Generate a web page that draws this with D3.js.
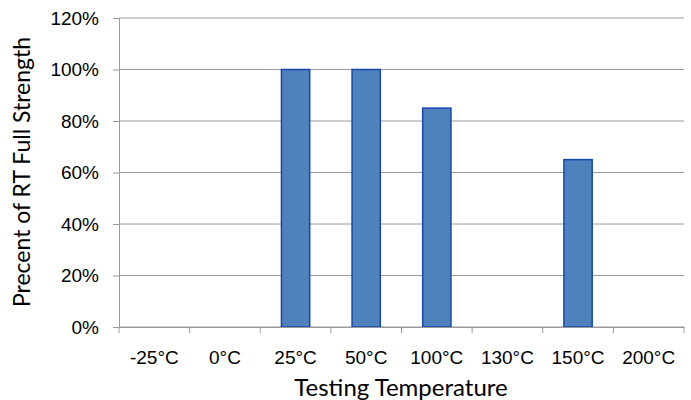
<!DOCTYPE html>
<html>
<head>
<meta charset="utf-8">
<script src="https://cdn.jsdelivr.net/npm/d3@7"></script>
<style>
  body { margin: 0; background: #fff; }
  svg { font-family: Lato, "Open Sans", sans-serif; }
</style>
</head>
<body>
<svg id="chart" width="691" height="400"></svg>
<script>
var categories = ["-25°C", "0°C", "25°C", "50°C", "100°C", "130°C", "150°C", "200°C"];
var values = [null, null, 1.00, 1.00, 0.85, null, 0.65, null];
var yTicks = [0, 0.2, 0.4, 0.6, 0.8, 1.0, 1.2];

var svg = d3.select("#chart"),
    margin = {top: 18, right: 7, bottom: 73, left: 119},
    width = 691 - margin.left - margin.right,
    height = 400 - margin.top - margin.bottom;

var g = svg.append("g").attr("transform", "translate(" + margin.left + "," + margin.top + ")");

var x = d3.scaleBand().domain(categories).range([0, width]).paddingInner(0.6).paddingOuter(0.3);
var xTick = d3.scaleBand().domain(categories).range([0, width]);
var y = d3.scaleLinear().domain([0, 1.2]).range([height, 0]);

// gridlines
g.selectAll(".grid").data(yTicks).enter().append("line")
  .attr("x1", 0).attr("x2", width)
  .attr("y1", function(d) { return y(d); })
  .attr("y2", function(d) { return y(d); })
  .attr("stroke", "#9a9a9a").attr("stroke-width", 1);

// bars
var data = categories.map(function(c, i) { return {cat: c, v: values[i]}; })
  .filter(function(d) { return d.v != null; });
g.selectAll("rect").data(data).enter().append("rect")
  .attr("x", function(d) { return x(d.cat); })
  .attr("y", function(d) { return y(d.v); })
  .attr("width", x.bandwidth())
  .attr("height", function(d) { return height - y(d.v); })
  .attr("fill", "#4f81bd")
  .attr("stroke", "#1448b0").attr("stroke-width", 1.5);

// y axis
var yAxis = g.append("g").call(d3.axisLeft(y).tickValues(yTicks)
    .tickFormat(d3.format(".0%")).tickSize(6).tickPadding(14));
yAxis.select(".domain").attr("stroke", "#9a9a9a");
yAxis.selectAll(".tick line").attr("stroke", "#9a9a9a");
yAxis.selectAll("text").attr("font-size", 19).attr("fill", "#000");

// x axis with ticks on category boundaries
var xAxis = g.append("g").attr("transform", "translate(0," + height + ")")
  .call(d3.axisBottom(xTick).tickSize(0).tickPadding(24));
xAxis.select(".domain").attr("stroke", "#9a9a9a");
xAxis.selectAll("text").attr("font-size", 19).attr("fill", "#000");
var bounds = categories.map(function(c) { return xTick(c); }).concat([width]);
xAxis.selectAll(".bnd").data(bounds).enter().append("line")
  .attr("x1", function(d) { return d; }).attr("x2", function(d) { return d; })
  .attr("y1", 0).attr("y2", 6).attr("stroke", "#9a9a9a");

svg.append("text").attr("x", 401).attr("y", 396)
  .attr("text-anchor", "middle").attr("font-size", 24).text("Testing Temperature");
svg.append("text").attr("transform", "translate(30,172) rotate(-90)")
  .attr("text-anchor", "middle").attr("font-size", 23).text("Precent of RT Full Strength");
</script>
</body>
</html>
